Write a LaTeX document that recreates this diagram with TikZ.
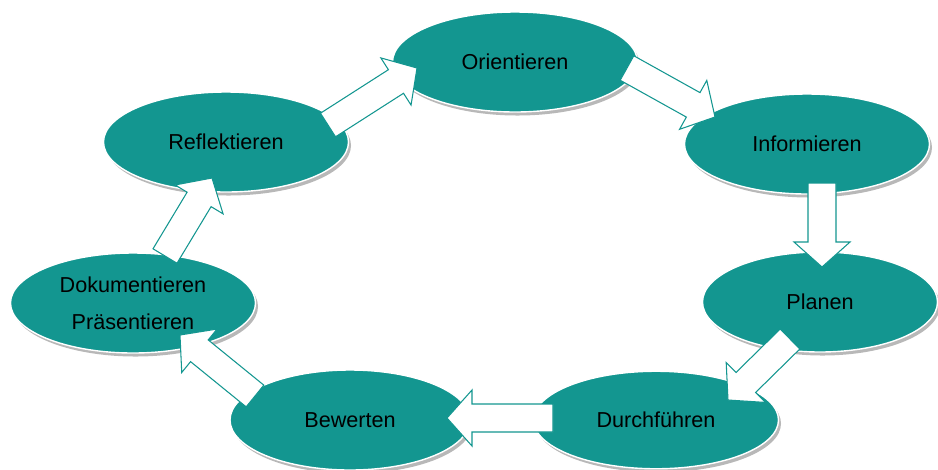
\documentclass[tikz,border=0pt]{standalone}
\usepackage{fontspec}
\setmainfont{Liberation Sans}
\usepackage{tikz}
\usetikzlibrary{shapes.geometric}
\usetikzlibrary{shadows}
\usetikzlibrary{calc}
\definecolor{petrol}{RGB}{19,150,144}
\tikzset{phase/.style={ellipse,fill=petrol,draw=white,line width=0.8pt,inner sep=0pt,
  minimum width=49mm,minimum height=20mm,align=center,
  font=\fontsize{12.3}{21}\selectfont,
  drop shadow={shadow xshift=0.5mm,shadow yshift=-0.7mm,fill=gray!70,opacity=0.8}}}
\tikzset{pfeil/.style={draw=petrol,fill=white,line width=0.6pt,line join=miter}}
\newcommand{\blockarr}[2]{%
  \path ($(#2)!5mm!(#1)$) coordinate (hb);
  \draw[pfeil] ($(#1)!2.8mm!90:(#2)$) -- ($(hb)!2.8mm!90:(#2)$)
    -- ($(hb)!5.6mm!90:(#2)$) -- (#2) -- ($(hb)!5.6mm!-90:(#2)$)
    -- ($(hb)!2.8mm!-90:(#2)$) -- ($(#1)!2.8mm!-90:(#2)$) -- cycle;}

\begin{document}
\begin{tikzpicture}[x=0.2mm,y=-0.2mm]
  \useasboundingbox (0,0) rectangle (938,469);
  \node[phase] (orient) at (515,62) {Orientieren};
  \node[phase] (inform) at (807,144) {Informieren};
  \node[phase,minimum width=47mm] (planen) at (820,302) {Planen};
  \node[phase,minimum height=19.5mm] (durch) at (656,420) {Durchführen};
  \node[phase,minimum width=48mm] (bewert) at (350,420) {Bewerten};
  \node[phase] (doku) at (133,303) {Dokumentieren\\Präsentieren};
  \node[phase] (refl) at (226,142) {Reflektieren};

  \coordinate (a1) at ([shift={(102,-17)}]refl.center);
  \coordinate (b1) at ([shift={(-98,6)}]orient.center);
  \coordinate (a2) at ([shift={(112,6)}]orient.center);
  \coordinate (b2) at ([shift={(-92,-27)}]inform.center);
  \coordinate (a3) at ([shift={(15,39)}]inform.center);
  \coordinate (b3) at ([shift={(2,-35)}]planen.center);
  \coordinate (a4) at ([shift={(-30,37)}]planen.center);
  \coordinate (b4) at ([shift={(72,-20)}]durch.center);
  \coordinate (a5) at ([shift={(-103,-2)}]durch.center);
  \coordinate (b5) at ([shift={(97,-2)}]bewert.center);
  \coordinate (a6) at ([shift={(-95,-24)}]bewert.center);
  \coordinate (b6) at ([shift={(47,32)}]doku.center);
  \coordinate (a7) at ([shift={(32,-47)}]doku.center);
  \coordinate (b7) at ([shift={(-14,36)}]refl.center);

  \blockarr{a1}{b1}
  \blockarr{a2}{b2}
  \blockarr{a3}{b3}
  \blockarr{a4}{b4}
  \blockarr{a5}{b5}
  \blockarr{a6}{b6}
  \blockarr{a7}{b7}
\end{tikzpicture}
\end{document}
